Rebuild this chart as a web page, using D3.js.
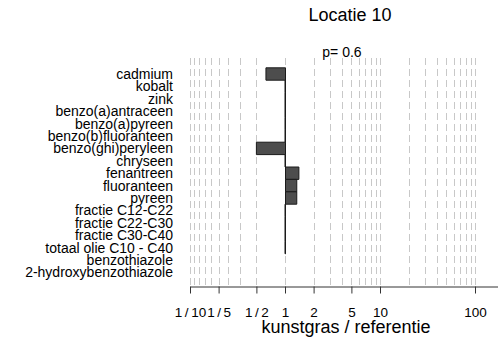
<!DOCTYPE html>
<html>
<head>
<meta charset="utf-8">
<script src="https://cdn.jsdelivr.net/npm/d3@7"></script>
<style>
  body { margin: 0; background: #fff; }
  text { font-family: "Liberation Sans", Arial, sans-serif; }
</style>
</head>
<body>
<svg id="chart" width="498" height="338"></svg>
<script>
// stoffen, van boven naar beneden
var stoffen = ["cadmium", "kobalt", "zink", "benzo(a)antraceen", "benzo(a)pyreen",
  "benzo(b)fluoranteen", "benzo(ghi)peryleen", "chryseen", "fenantreen", "fluoranteen",
  "pyreen", "fractie C12-C22", "fractie C22-C30", "fractie C30-C40",
  "totaal olie C10 - C40", "benzothiazole", "2-hydroxybenzothiazole"];
// verhouding kunstgras / referentie (null = geen waarde)
var ratio = [0.63, 1, 1, 1, 1, 1, 0.5, 1, 1.4, 1.33, 1.33, 1, 1, 1, 1, null, null];
var tickVals = [0.1, 0.2, 0.5, 1, 2, 5, 10, 100];
var tickNames = ["1/10", "1/5", "1/2", "1", "2", "5", "10", "100"];
var gridVals = [1/10, 1/9, 1/8, 1/7, 1/6, 1/5, 1/4, 1/3, 1/2, 1,
  2, 3, 4, 5, 6, 7, 8, 9, 10, 20, 30, 40, 50, 60, 70, 80, 90, 100];

var svg = d3.select("#chart");

var x = d3.scaleLog().domain([0.1, 200]).range([190, 503.6]);
var y = d3.scaleBand().domain(stoffen).range([67.8, 278.6]).padding(0);

// grid
svg.append("g").selectAll("line")
  .data(gridVals)
  .enter().append("line")
  .attr("x1", function(d) { return Math.round(x(d)) + 0.5; })
  .attr("x2", function(d) { return Math.round(x(d)) + 0.5; })
  .attr("y1", 58)
  .attr("y2", 286)
  .attr("stroke", "#c8c8c8")
  .attr("stroke-dasharray", "7,4");

// bars (path so that a ratio of 1 still shows as a line)
svg.append("g").selectAll("path")
  .data(stoffen.map(function(s, i) { return {naam: s, v: ratio[i]}; })
    .filter(function(d) { return d.v != null; }))
  .enter().append("path")
  .attr("d", function(d) {
    var x0 = Math.round(x(1)) + 0.5, x1 = x(d.v);
    var y0 = y(d.naam), y1 = y0 + y.bandwidth();
    return "M" + x0 + "," + y0 + "H" + x1 + "V" + y1 + "H" + x0 + "Z";
  })
  .attr("fill", "#4d4d4d")
  .attr("stroke", "#1a1a1a")
  .attr("stroke-width", 1);

// labels
svg.append("g").selectAll("text")
  .data(stoffen)
  .enter().append("text")
  .attr("x", 173)
  .attr("y", function(d) { return y(d) + y.bandwidth() / 2; })
  .attr("dy", "0.36em")
  .attr("text-anchor", "end")
  .attr("font-size", "14px")
  .attr("fill", "#000")
  .text(function(d) { return d; });

// x axis
var ax = svg.append("g")
  .attr("transform", "translate(0,286.5)")
  .call(d3.axisBottom(x).tickValues(tickVals).tickSizeOuter(0).tickSizeInner(7)
    .tickFormat(function(d, i) { return tickNames[i]; }));
ax.select(".domain").attr("stroke", "#333");
ax.selectAll(".tick line").attr("stroke", "#333");
ax.selectAll(".tick text")
  .attr("font-family", "Liberation Sans, Arial, sans-serif")
  .attr("font-size", "13.5px")
  .attr("fill", "#000")
  .attr("y", 30)
  .attr("dy", 0)
  .each(function() {
    var t = d3.select(this), s = t.text();
    if (s.indexOf("/") < 0) return;
    var parts = s.split("/");
    t.text(null);
    t.append("tspan").text(parts[0]);
    t.append("tspan").attr("dx", 2.5).text("/");
    t.append("tspan").attr("dx", 2.5).text(parts[1]);
  });

svg.append("text")
  .attr("x", 346).attr("y", 333)
  .attr("text-anchor", "middle")
  .attr("font-size", "18px")
  .text("kunstgras / referentie");

svg.append("text")
  .attr("x", 350).attr("y", 21)
  .attr("text-anchor", "middle")
  .attr("font-size", "18px")
  .text("Locatie 10");

svg.append("text")
  .attr("x", 342).attr("y", 57)
  .attr("text-anchor", "middle")
  .attr("font-size", "14px")
  .text("p= 0.6");
</script>
</body>
</html>
